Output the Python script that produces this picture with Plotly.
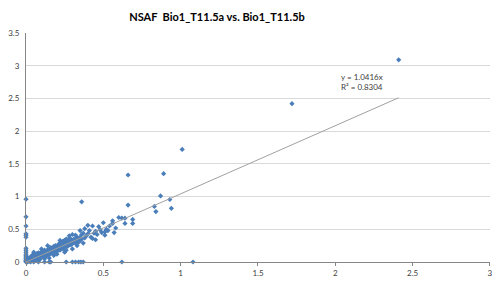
import plotly.graph_objects as go

# --- data ---
axis_zero_x_y = [0.96, 0.69, 0.55, 0.43, 0.41, 0.38, 0.21, 0.18, 0.15, 0.12, 0.10, 0.08, 0.06, 0.05, 0.03, 0.02, 0.01, 0.0]
axis_zero_y_x = [0.01, 0.03, 0.05, 0.08, 0.12, 0.15, 0.16, 0.26, 0.30, 0.32, 0.34, 0.355, 0.37, 0.62, 1.08]

cloud_x = [0.01, 0.01, 0.02, 0.02, 0.02, 0.03, 0.03, 0.03, 0.04, 0.04, 0.04, 0.05, 0.05, 0.05,
           0.06, 0.06, 0.06, 0.07, 0.07, 0.07, 0.08, 0.08, 0.08, 0.09, 0.09, 0.09, 0.10, 0.10, 0.10,
           0.11, 0.11, 0.11, 0.12, 0.12, 0.12, 0.13, 0.13, 0.13, 0.14, 0.14, 0.14, 0.15, 0.15, 0.15,
           0.16, 0.16, 0.16, 0.17, 0.17, 0.17, 0.18, 0.18, 0.18, 0.19, 0.19, 0.19, 0.20, 0.20, 0.20,
           0.21, 0.21, 0.21, 0.22, 0.22, 0.22, 0.23, 0.23, 0.23, 0.24, 0.24, 0.24, 0.25, 0.25, 0.25,
           0.26, 0.26, 0.26, 0.27, 0.27, 0.27, 0.28, 0.28, 0.28, 0.29, 0.29, 0.29, 0.30, 0.30, 0.30,
           0.31, 0.31, 0.32, 0.32, 0.33, 0.33, 0.34, 0.34, 0.35, 0.35, 0.35, 0.36, 0.36, 0.37, 0.37,
           0.38, 0.38, 0.39, 0.40, 0.40, 0.41, 0.42, 0.43, 0.43, 0.44, 0.45, 0.45, 0.46, 0.47, 0.48,
           0.49, 0.50, 0.51, 0.51, 0.52, 0.53, 0.54, 0.56, 0.56, 0.57, 0.58, 0.60, 0.62, 0.64, 0.64,
           0.69, 0.69, 0.12, 0.18, 0.25,
           0.05, 0.08, 0.15, 0.20, 0.22, 0.28, 0.33, 0.30, 0.14, 0.10, 0.26, 0.32]
cloud_y = [0.02, 0.04, 0.01, 0.03, 0.06, 0.02, 0.05, 0.08, 0.03, 0.06, 0.10, 0.04, 0.07, 0.12,
           0.03, 0.08, 0.11, 0.05, 0.09, 0.13, 0.06, 0.10, 0.14, 0.07, 0.11, 0.04, 0.09, 0.13, 0.16,
           0.08, 0.12, 0.15, 0.10, 0.14, 0.18, 0.09, 0.13, 0.16, 0.12, 0.15, 0.19, 0.11, 0.16, 0.20,
           0.14, 0.18, 0.22, 0.13, 0.17, 0.21, 0.15, 0.19, 0.24, 0.17, 0.21, 0.25, 0.16, 0.20, 0.23,
           0.19, 0.22, 0.27, 0.18, 0.24, 0.29, 0.21, 0.25, 0.30, 0.20, 0.26, 0.32, 0.23, 0.28, 0.33,
           0.25, 0.30, 0.35, 0.24, 0.29, 0.33, 0.27, 0.31, 0.36, 0.26, 0.32, 0.35, 0.28, 0.33, 0.20,
           0.30, 0.35, 0.29, 0.34, 0.31, 0.38, 0.30, 0.36, 0.33, 0.38, 0.48, 0.35, 0.42, 0.29, 0.44,
           0.37, 0.51, 0.40, 0.56, 0.43, 0.48, 0.38, 0.36, 0.55, 0.44, 0.34, 0.47, 0.42, 0.54, 0.49,
           0.45, 0.60, 0.41, 0.46, 0.50, 0.48, 0.55, 0.59, 0.63, 0.45, 0.52, 0.68, 0.67, 0.59, 0.67,
           0.65, 0.59, 0.05, 0.10, 0.15,
           0.15, 0.02, 0.06, 0.12, 0.33, 0.40, 0.25, 0.42, 0.25, 0.20, 0.18, 0.41]

outlier_x = [2.41, 1.72, 1.01, 0.89, 0.66, 0.87, 0.93, 0.83, 0.84, 0.94, 0.66, 0.36]
outlier_y = [3.09, 2.42, 1.72, 1.35, 1.33, 1.01, 0.955, 0.85, 0.77, 0.82, 0.87, 0.92]

trend_slope = 1.0416
trend_r2 = 0.8304
title_text = "NSAF  Bio1_T11.5a vs. Bio1_T11.5b"
x_ticks = [0, 0.5, 1, 1.5, 2, 2.5, 3]
y_ticks = [0, 0.5, 1, 1.5, 2, 2.5, 3, 3.5]

xs = [0.0] * len(axis_zero_x_y) + axis_zero_y_x + cloud_x + outlier_x
ys = axis_zero_x_y + [0.0] * len(axis_zero_y_x) + cloud_y + outlier_y

x_max = max(xs)
FONT = "Lato, Liberation Sans, sans-serif"

fig = go.Figure()
fig.add_trace(go.Scatter(
    x=xs, y=ys, mode="markers",
    marker=dict(symbol="diamond", size=4, color="#4A7EBB", line=dict(width=0)),
    showlegend=False, hoverinfo="skip", cliponaxis=False))
fig.add_trace(go.Scatter(
    x=[0, x_max], y=[0, trend_slope * x_max], mode="lines",
    line=dict(color="#A0A0A0", width=1), showlegend=False, hoverinfo="skip"))

fig.add_annotation(
    x=2.17, y=2.75, xref="x", yref="y", showarrow=False,
    text=f"y = {trend_slope}x<br>R² = {trend_r2}",
    font=dict(family=FONT, size=8, color="#404040"),
    align="left")

fig.update_layout(
    width=500, height=283,
    margin=dict(l=26, r=10, t=33, b=21, autoexpand=False),
    paper_bgcolor="white", plot_bgcolor="white",
    title=dict(text=f"<b>{title_text}</b>", x=0.434, xanchor="center", xref="container",
               y=0.94, yanchor="middle", yref="container", automargin=False,
               font=dict(family=FONT, size=11, color="#000000")),
    xaxis=dict(range=[0, 3.0005], tickvals=x_ticks, ticktext=[f"{v:g}" for v in x_ticks],
               showgrid=False, zeroline=False, showline=True, linecolor="#868686", linewidth=1,
               ticks="outside", ticklen=3, tickcolor="#868686", automargin=False,
               tickfont=dict(family=FONT, size=8, color="#404040")),
    yaxis=dict(range=[0, 3.5], tickvals=y_ticks, ticktext=[f"{v:g}" for v in y_ticks],
               showgrid=True, gridcolor="#D9D9D9", gridwidth=1, zeroline=False, automargin=False,
               showline=True, linecolor="#868686", linewidth=1, ticks="", ticklabelstandoff=4,
               tickfont=dict(family=FONT, size=8, color="#404040")),
)

fig.write_html("out.html", config={"displayModeBar": False, "staticPlot": True},
               post_script="document.body.style.margin='0';document.body.style.overflow='hidden';")
